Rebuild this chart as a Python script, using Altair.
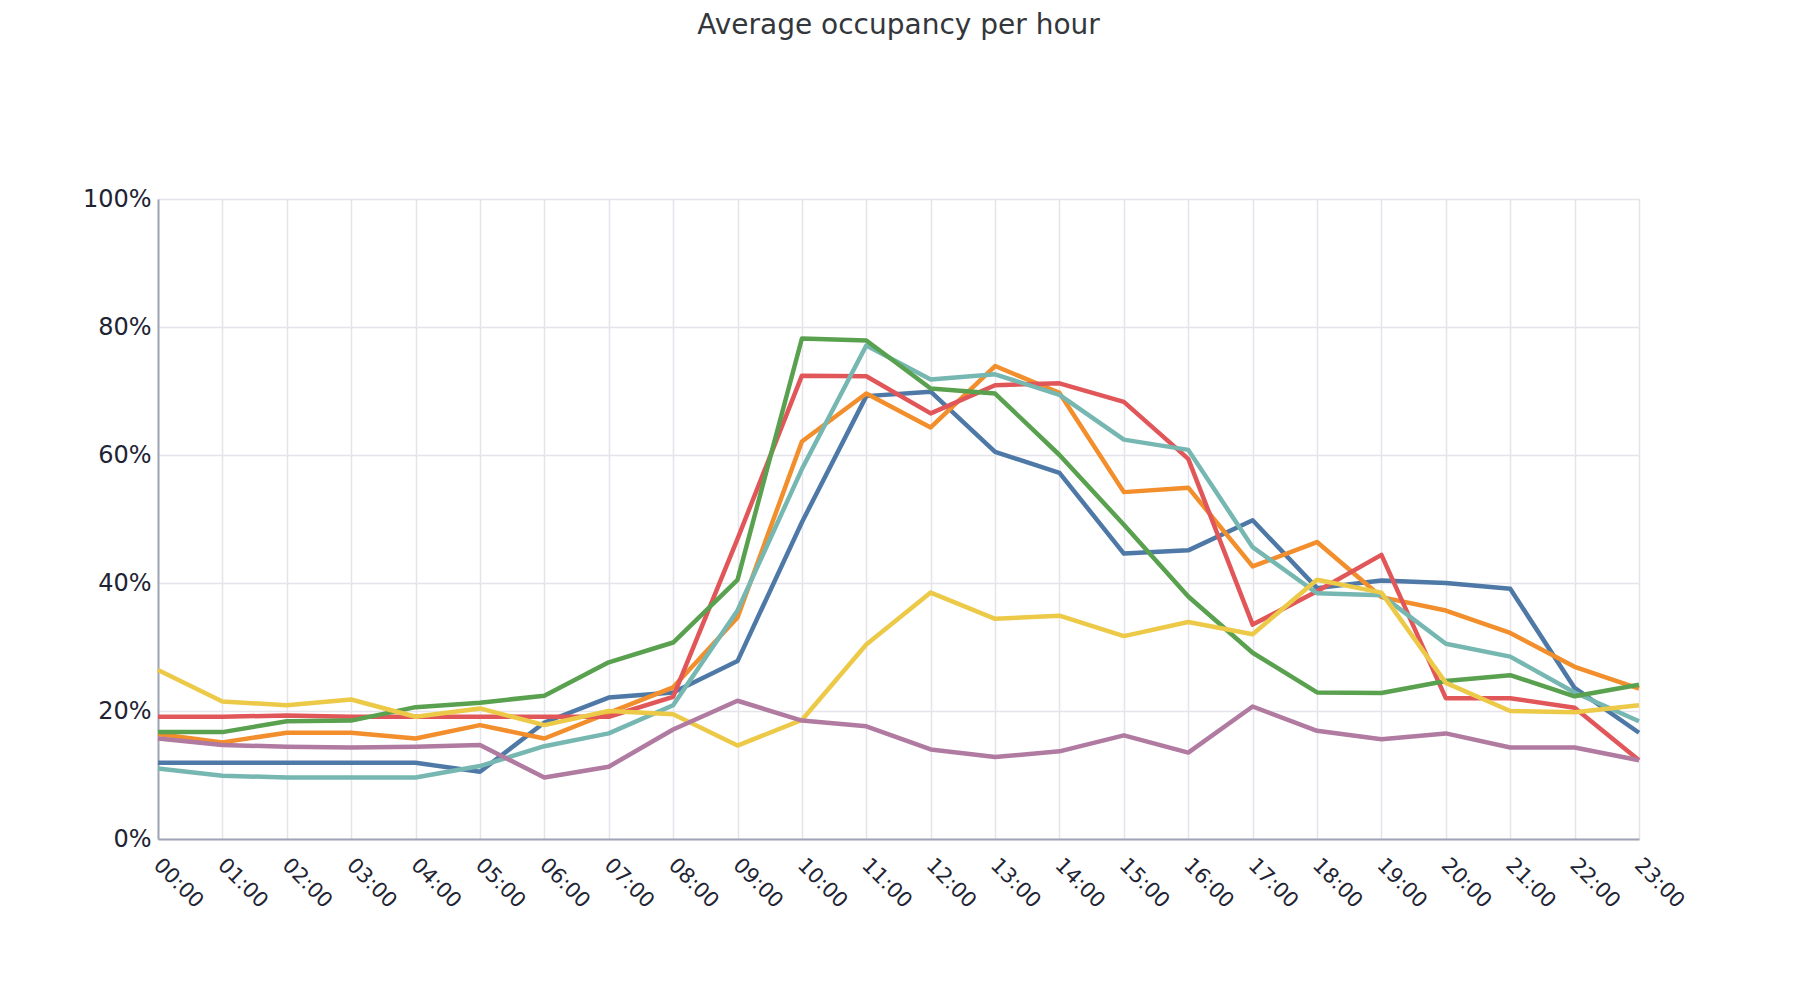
import altair as alt
import pandas as pd

hours = [f"{h:02d}:00" for h in range(24)]
series_names = ["Monday", "Tuesday", "Wednesday", "Thursday", "Friday", "Saturday", "Sunday"]
series_colors = ["#4e79a7", "#f28e2b", "#e15759", "#76b7b2", "#59a14f", "#edc948", "#b07aa1"]

monday = [11.9, 11.9, 11.9, 11.9, 11.9, 10.5, 18.2, 22.1, 22.9, 27.8, 49.5, 69.2,
          69.9, 60.5, 57.2, 44.6, 45.1, 49.8, 39.2, 40.4, 40.0, 39.1, 23.6, 16.6]
tuesday = [16.4, 15.1, 16.6, 16.6, 15.7, 17.8, 15.7, 19.7, 23.7, 34.6, 62.1, 69.6,
           64.3, 73.9, 69.7, 54.2, 54.9, 42.6, 46.4, 37.8, 35.7, 32.2, 26.9, 23.5]
wednesday = [19.1, 19.1, 19.3, 19.1, 19.1, 19.1, 19.1, 19.1, 22.2, 46.9, 72.4, 72.3,
             66.5, 70.9, 71.2, 68.3, 59.4, 33.5, 38.7, 44.4, 22.0, 22.0, 20.5, 12.3]
thursday = [11.0, 9.9, 9.6, 9.6, 9.6, 11.4, 14.5, 16.5, 20.9, 35.7, 57.8, 77.1,
            71.8, 72.6, 69.4, 62.4, 60.8, 45.6, 38.4, 38.1, 30.5, 28.5, 22.9, 18.4]
friday = [16.7, 16.7, 18.4, 18.5, 20.6, 21.3, 22.4, 27.6, 30.7, 40.5, 78.2, 77.9,
          70.4, 69.6, 60.0, 49.1, 37.9, 29.1, 22.9, 22.8, 24.7, 25.6, 22.3, 24.1]
saturday = [26.4, 21.5, 20.9, 21.8, 19.1, 20.4, 17.8, 20.0, 19.5, 14.6, 18.6, 30.4,
            38.5, 34.4, 34.9, 31.7, 33.9, 32.0, 40.5, 38.5, 24.4, 20.0, 19.8, 20.9]
sunday = [15.7, 14.7, 14.4, 14.3, 14.4, 14.7, 9.6, 11.3, 17.1, 21.6, 18.5, 17.6,
          14.0, 12.8, 13.7, 16.2, 13.5, 20.7, 16.9, 15.6, 16.5, 14.3, 14.3, 12.3]

all_series = [monday, tuesday, wednesday, thursday, friday, saturday, sunday]

rows = []
for idx, (name, vals) in enumerate(zip(series_names, all_series)):
    for h, v in zip(hours, vals):
        rows.append({"hour": h, "series": name, "order": idx, "occupancy": v / 100.0})
df = pd.DataFrame(rows)

FONT = "DejaVu Sans"

chart = alt.Chart(df).mark_line(strokeWidth=4.5, strokeJoin="round").encode(
    x=alt.X(
        "hour:O",
        sort=hours,
        scale=alt.Scale(padding=0),
        axis=alt.Axis(
            title=None,
            labelAngle=45,
            labelFontSize=21,
            labelPadding=15,
            labelOffset=6,
            labelColor="#1e2433",
            labelFont=FONT,
            ticks=False,
            domainColor="#a0a5b5",
            domainWidth=2,
            grid=True,
            gridColor="#e4e4ea",
            gridWidth=1.5,
        ),
    ),
    y=alt.Y(
        "occupancy:Q",
        scale=alt.Scale(domain=[0, 1], nice=False),
        axis=alt.Axis(
            title=None,
            values=[0, 0.2, 0.4, 0.6, 0.8, 1.0],
            format=".0%",
            labelFontSize=24,
            labelPadding=7,
            labelColor="#1e2433",
            labelFont=FONT,
            ticks=False,
            domainColor="#a0a5b5",
            domainWidth=2,
            grid=True,
            gridColor="#e4e4ea",
            gridWidth=1.5,
        ),
    ),
    color=alt.Color(
        "series:N",
        sort=series_names,
        scale=alt.Scale(domain=series_names, range=series_colors),
        legend=None,
    ),
    order=alt.Order("order:Q"),
).properties(
    width=1481,
    height=640,
    title=alt.TitleParams(
        "Average occupancy per hour",
        font=FONT,
        fontSize=28,
        fontWeight="normal",
        color="#33373c",
        anchor="middle",
        baseline="bottom",
        offset=119,
    ),
    padding={"left": 150, "top": 191, "right": 152, "bottom": 153},
    autosize="none",
).configure_view(stroke=None)

chart.save("out.html", embed_options={"renderer": "svg", "actions": False})
